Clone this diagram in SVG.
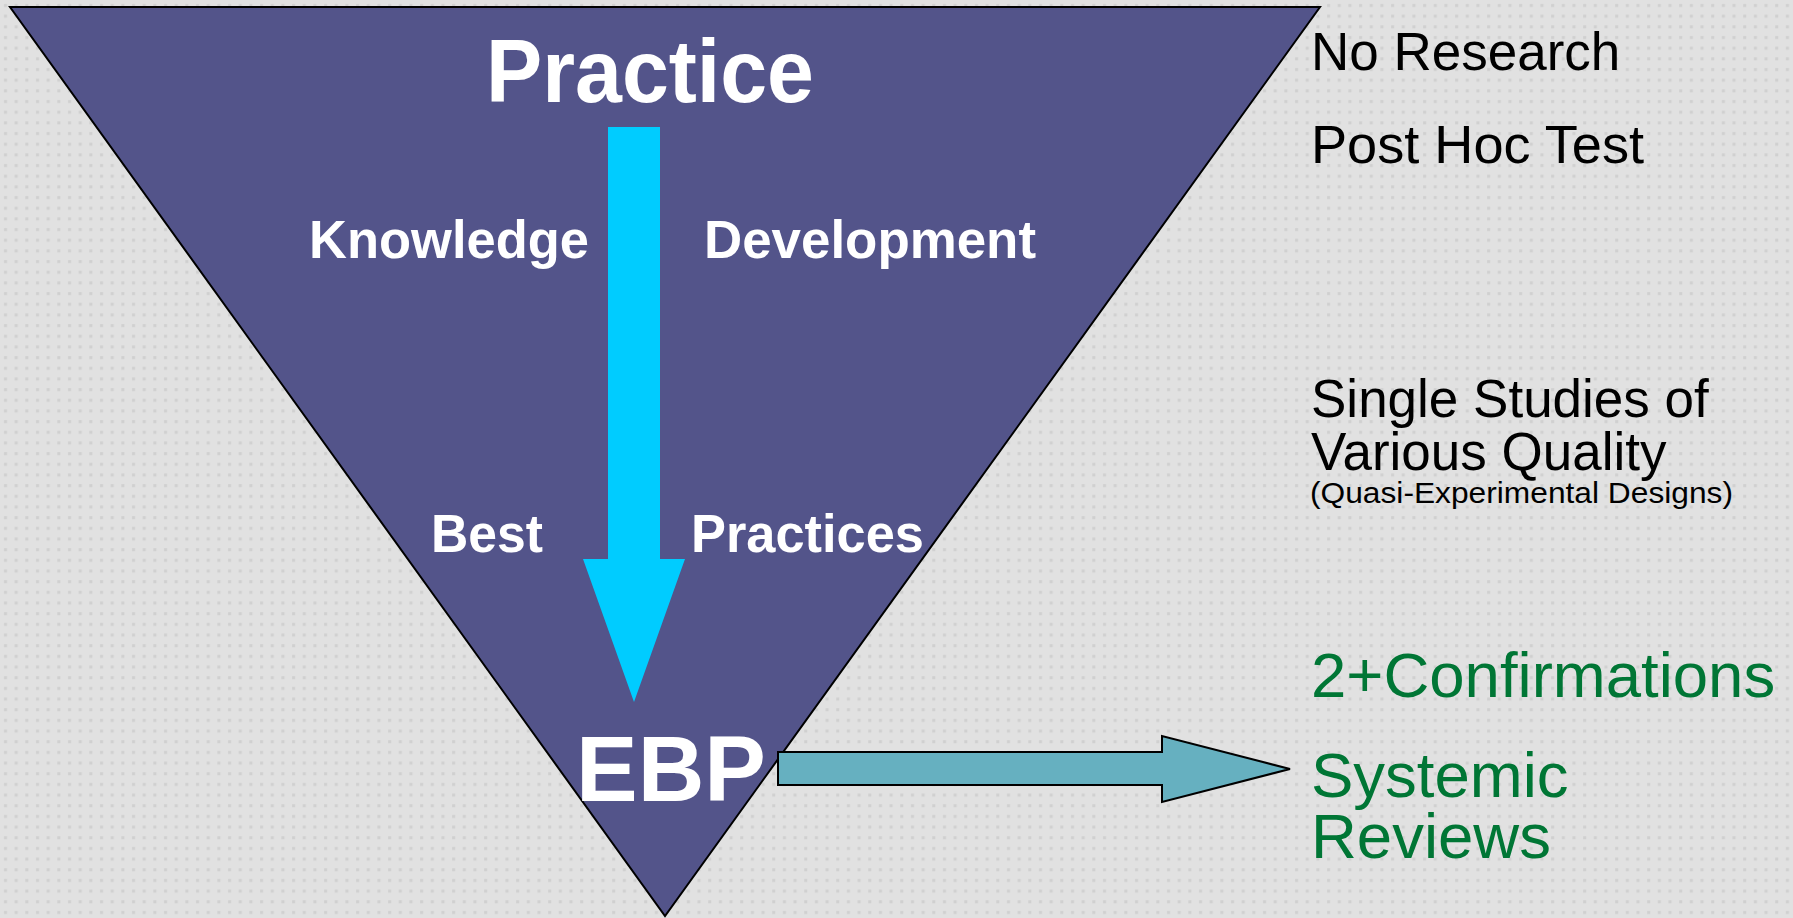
<svg xmlns="http://www.w3.org/2000/svg" width="1793" height="918" viewBox="0 0 1793 918">
<defs>
<pattern id="dots" width="10.67" height="10.67" patternUnits="userSpaceOnUse">
<rect width="10.67" height="10.67" fill="#e1e1e1"/>
<rect x="4" y="4" width="3" height="3" fill="#d0d0d0"/>
</pattern>
<style>
.w{font-family:"Liberation Sans",Arial,sans-serif;font-weight:bold;fill:#ffffff}
.k{font-family:"Liberation Sans",Arial,sans-serif;fill:#000000}
.g{font-family:"Liberation Sans",Arial,sans-serif;fill:#007635}
</style>
</defs>
<rect width="1793" height="918" fill="url(#dots)"/>
<g id="triangle">
<polygon points="10,7 1320,7 665,916" fill="#53548a" stroke="#000000" stroke-width="2"/>
</g>
<g id="labels-inner">
<text class="w" x="486" y="102" font-size="89" textLength="328" lengthAdjust="spacingAndGlyphs">Practice</text>
<text class="w" x="309" y="258" font-size="53" textLength="280" lengthAdjust="spacingAndGlyphs">Knowledge</text>
<text class="w" x="704" y="258" font-size="53" textLength="332" lengthAdjust="spacingAndGlyphs">Development</text>
<text class="w" x="431" y="552" font-size="53" textLength="112" lengthAdjust="spacingAndGlyphs">Best</text>
<text class="w" x="691" y="552" font-size="53" textLength="233" lengthAdjust="spacingAndGlyphs">Practices</text>
<text class="w" x="576" y="801" font-size="92" textLength="190" lengthAdjust="spacingAndGlyphs">EBP</text>
</g>
<g id="connectors">
<polygon id="down-arrow" points="608,127 660,127 660,559 685,559 634,702 583,559 608,559" fill="#00ccff"/>
<polygon id="right-arrow" points="778,752 1162,752 1162,736 1290,769 1162,802 1162,785 778,785" fill="#66b0c0" stroke="#000000" stroke-width="2"/>
</g>
<g id="labels-right">
<text class="k" x="1311" y="70" font-size="53">No Research</text>
<text class="k" x="1311" y="163" font-size="53" textLength="333" lengthAdjust="spacingAndGlyphs">Post Hoc Test</text>
<text class="k" x="1311" y="417" font-size="53">Single Studies of</text>
<text class="k" x="1311" y="470" font-size="53">Various Quality</text>
<text class="k" x="1310" y="503" font-size="30" textLength="423" lengthAdjust="spacingAndGlyphs">(Quasi-Experimental Designs)</text>
<text class="g" x="1311" y="697" font-size="63.5">2+Confirmations</text>
<text class="g" x="1311" y="797" font-size="63.5">Systemic</text>
<text class="g" x="1311" y="858" font-size="63.5">Reviews</text>
</g>
</svg>
